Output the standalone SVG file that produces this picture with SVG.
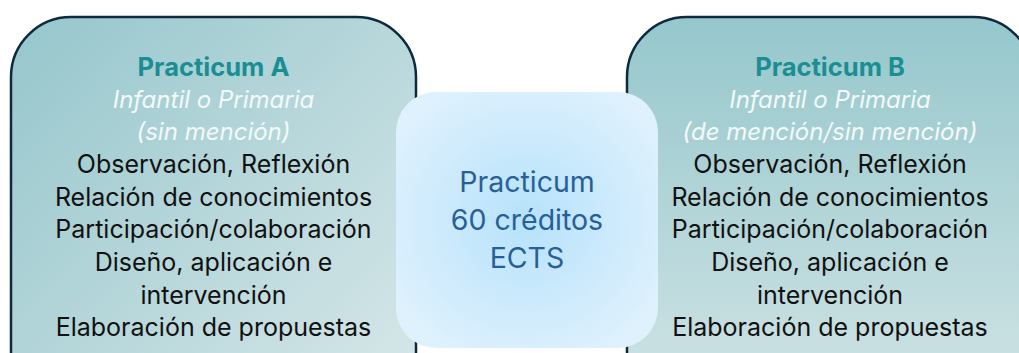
<svg xmlns="http://www.w3.org/2000/svg" width="1019" height="353" viewBox="0 0 1019 353">
<defs>
<linearGradient id="gA" x1="0" y1="0" x2="1" y2="1">
<stop offset="0" stop-color="#95c6cc"/>
<stop offset="1" stop-color="#dbe9ea"/>
</linearGradient>
<linearGradient id="gB" x1="0" y1="0" x2="0" y2="1">
<stop offset="0" stop-color="#95c7cc"/>
<stop offset="1" stop-color="#d6e6e7"/>
</linearGradient>
<radialGradient id="gC" cx="0.5" cy="0.5" r="0.6">
<stop offset="0" stop-color="#b6e2fb"/>
<stop offset="1" stop-color="#dff1fd"/>
</radialGradient>
<style>
.box{stroke:#0e2a3e;stroke-width:2.5}
text{font-family:Inter,"Open Sans",sans-serif;text-anchor:middle}
.t{font-size:25.5px;font-weight:bold;fill:#1a8e93}
.i{font-size:24px;font-style:italic;fill:#f4f9f9}
.b{font-size:25px;fill:#111111}
.c{font-size:28.5px;fill:#285f98}
</style>
</defs>
<g id="practicumA">
<rect class="box" x="11" y="17" width="405" height="420" rx="60" fill="url(#gA)"/>
<text class="t" x="213.5" y="76">Practicum A</text>
<text class="i" x="213.5" y="108">Infantil o Primaria</text>
<text class="i" x="213.5" y="140">(sin mención)</text>
<text class="b" x="213.5" y="173">Observación, Reflexión</text>
<text class="b" x="213.5" y="206">Relación de conocimientos</text>
<text class="b" x="213.5" y="238">Participación/colaboración</text>
<text class="b" x="213.5" y="271">Diseño, aplicación e</text>
<text class="b" x="213.5" y="304">intervención</text>
<text class="b" x="213.5" y="336">Elaboración de propuestas</text>
</g>
<g id="practicumB">
<rect class="box" x="627" y="17" width="406" height="420" rx="60" fill="url(#gB)"/>
<text class="t" x="830" y="76">Practicum B</text>
<text class="i" x="830" y="108">Infantil o Primaria</text>
<text class="i" x="830" y="140">(de mención/sin mención)</text>
<text class="b" x="830" y="173">Observación, Reflexión</text>
<text class="b" x="830" y="206">Relación de conocimientos</text>
<text class="b" x="830" y="238">Participación/colaboración</text>
<text class="b" x="830" y="271">Diseño, aplicación e</text>
<text class="b" x="830" y="304">intervención</text>
<text class="b" x="830" y="336">Elaboración de propuestas</text>
</g>
<g id="practicumCenter">
<rect x="396" y="92" width="262" height="256" rx="40" fill="url(#gC)"/>
<text class="c" x="527" y="192">Practicum</text>
<text class="c" x="527" y="230">60 créditos</text>
<text class="c" x="527" y="268">ECTS</text>
</g>
<g id="connectors"/>
</svg>
